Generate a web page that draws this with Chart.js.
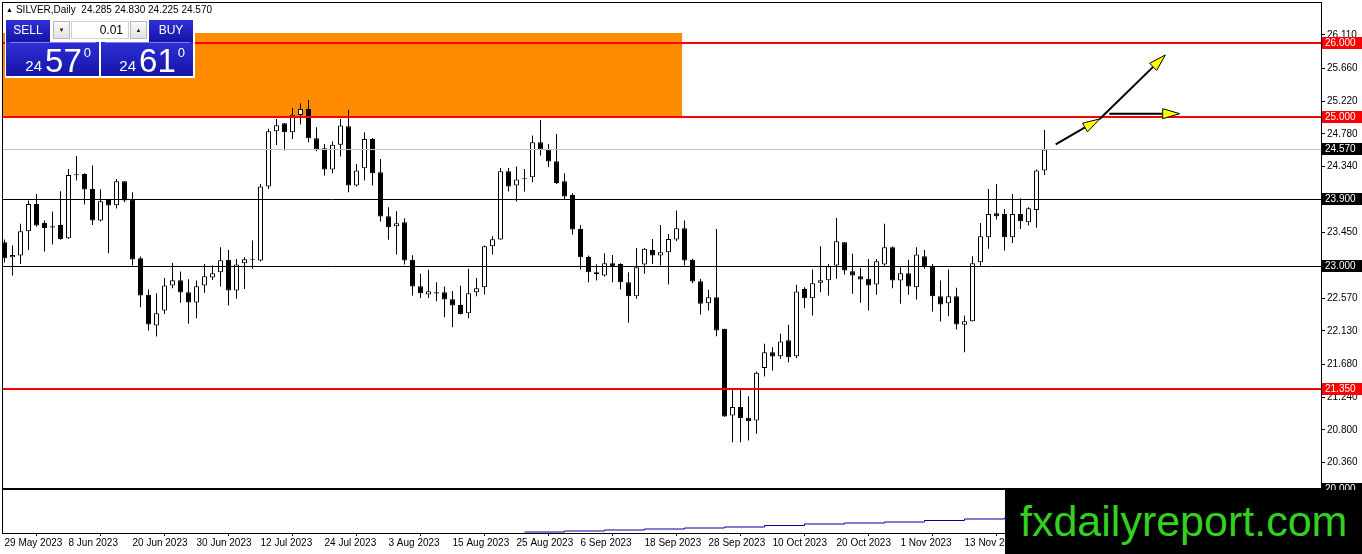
<!DOCTYPE html>
<html>
<head>
<meta charset="utf-8">
<script src="https://cdn.jsdelivr.net/npm/chart.js@4.4.0/dist/chart.umd.min.js"></script>
<style>
html, body { margin: 0; padding: 0; background: #fff; }
#wrap { position: relative; width: 1362px; height: 554px; overflow: hidden; }
#grafico { position: absolute; left: 0; top: 0; }
.titulo { position: absolute; left: 6px; top: 4px; font: 10px "Liberation Sans", Arial, sans-serif; color: #000; white-space: nowrap; }
.titulo .tri { font-size: 7px; vertical-align: 1px; margin-right: 3px; }
#painel { position: absolute; left: 5px; top: 19px; width: 190px; height: 59px; background: #fff; }
.azul { position: absolute; background: linear-gradient(#2f2fd6, #1414a8); color: #fff; font: 12px "Liberation Sans", Arial, sans-serif; text-align: center; }
.btn { top: 1px; width: 44px; height: 22px; line-height: 21px; }
.spin { position: absolute; top: 2px; width: 17px; height: 18px; background: linear-gradient(#fafafa, #e2e2e2); border: 1px solid #b8b8b8; box-sizing: border-box; font: 6px Arial, sans-serif; color: #222; text-align: center; line-height: 16px; }
.lote { position: absolute; top: 2px; left: 66px; width: 58px; height: 18px; background: #fff; border: 1px solid #d0d0d0; box-sizing: border-box; font: 12px "Liberation Sans", Arial, sans-serif; color: #000; text-align: right; padding-right: 5px; line-height: 16px; }
.preco { top: 23px; height: 34px; display: flex; align-items: flex-end; justify-content: flex-end; padding-right: 8px; box-sizing: border-box; }
.preco .pq { font-size: 15px; line-height: 15px; margin-bottom: 3px; margin-right: 3px; }
.preco .pg { font-size: 33px; line-height: 30px; }
.preco .ps { font-size: 13px; line-height: 13px; align-self: flex-start; margin-top: 4px; margin-left: 2px; }
.preco .sep { position: absolute; top: 0; left: 4px; right: 3px; height: 1px; background: #8080e6; }
#marca { position: absolute; left: 1005px; top: 490px; width: 357px; height: 64px; background: #000; color: #33d11f; font: 43px "Liberation Sans", Arial, sans-serif; line-height: 62px; text-indent: 15px; white-space: nowrap; }
</style>
</head>
<body>
<div id="wrap">
  <canvas id="grafico" width="1362" height="554"></canvas>
  <div class="titulo"><span class="tri">&#9650;</span>SILVER,Daily&nbsp; 24.285 24.830 24.225 24.570</div>
  <div id="painel">
    <div class="azul btn" style="left:1px">SELL</div>
    <div class="spin" style="left:48px">&#9660;</div>
    <div class="lote">0.01</div>
    <div class="spin" style="left:125px">&#9650;</div>
    <div class="azul btn" style="left:144px">BUY</div>
    <div class="azul preco" style="left:1px;width:93px"><div class="sep"></div><span class="pq">24</span><span class="pg">57</span><span class="ps">0</span></div>
    <div class="azul preco" style="left:96px;width:92px"><div class="sep"></div><span class="pq">24</span><span class="pg">61</span><span class="ps">0</span></div>
  </div>
  <div id="marca">fxdailyreport.com</div>
</div>
<script>
const ctx = document.getElementById('grafico').getContext('2d');

// Candles (SILVER diario, 29 May 2023 -> 27 Nov 2023) ------------------------
const abertura = [23.322,23.121,23.143,23.470,23.837,23.582,23.537,23.555,23.376,24.231,
  24.240,24.039,23.613,23.891,23.819,24.142,23.900,23.107,22.615,22.203,
  22.404,22.740,22.812,22.651,22.512,22.740,22.848,22.919,23.085,22.673,
  23.040,23.085,23.076,24.070,24.814,24.921,24.800,25.033,25.114,24.720,
  24.585,24.299,24.634,24.881,24.084,24.316,24.711,24.263,23.672,23.537,
  23.591,23.085,22.731,22.619,22.650,22.651,22.557,22.480,22.368,22.651,
  22.718,23.269,23.358,24.276,24.084,24.180,24.196,24.666,24.567,24.411,
  24.142,23.958,23.501,23.125,22.919,22.874,23.040,23.031,22.785,22.597,
  23.022,23.219,23.143,23.188,23.358,23.510,23.085,22.798,22.503,22.583,
  22.158,20.994,21.106,20.962,20.926,21.630,21.844,21.791,22.006,21.791,
  22.695,22.570,22.776,22.812,23.009,23.322,22.933,22.866,22.830,22.754,
  23.022,23.255,22.807,22.906,22.718,23.134,23.000,22.597,22.503,22.597,
  22.212,22.261,23.054,23.389,23.712,23.703,23.389,23.703,23.591,23.755,24.285]
const maxima = [23.360,23.278,23.569,23.882,23.972,23.613,23.734,24.007,24.308,24.482,
  24.249,24.352,24.034,23.895,24.173,24.145,23.994,23.130,22.686,22.637,
  22.843,23.045,22.928,22.825,22.807,23.031,23.013,23.255,23.219,23.098,
  23.121,23.345,24.106,24.849,24.979,24.925,25.127,25.190,25.235,24.867,
  24.643,24.675,24.979,25.100,24.375,24.800,24.724,24.442,23.793,23.739,
  23.645,23.148,22.897,22.951,22.785,22.727,22.668,22.736,22.964,22.843,
  23.278,23.403,24.321,24.321,24.339,24.308,24.755,24.966,24.643,24.778,
  24.249,23.981,23.555,23.143,23.027,23.175,23.152,23.040,22.919,23.246,
  23.246,23.367,23.555,23.434,23.748,23.613,23.100,22.830,22.682,23.501,
  22.160,21.352,21.352,21.253,21.585,21.956,21.912,22.091,22.212,22.749,
  22.718,22.955,23.269,23.031,23.649,23.325,23.166,22.977,23.098,23.098,
  23.569,23.264,22.986,23.085,23.255,23.219,23.031,22.807,22.955,22.709,
  22.337,23.134,23.582,24.039,24.106,23.770,23.972,23.913,23.793,24.300,24.830]
const minima = [23.050,22.874,23.031,23.219,23.533,23.197,23.291,23.354,23.370,24.151,
  23.828,23.555,23.600,23.175,23.775,23.860,23.009,22.449,22.136,22.055,
  22.359,22.704,22.507,22.225,22.301,22.642,22.816,22.727,22.471,22.561,
  22.695,22.964,23.063,24.039,24.630,24.554,24.711,24.903,24.666,24.545,
  24.218,24.249,24.473,23.994,24.070,24.151,24.084,23.600,23.354,23.157,
  23.022,22.606,22.574,22.574,22.530,22.315,22.180,22.350,22.301,22.597,
  22.619,23.157,23.355,24.003,23.869,24.003,24.128,24.487,24.330,24.106,
  23.904,23.425,22.955,22.785,22.807,22.861,22.785,22.686,22.239,22.561,
  22.897,23.031,23.009,22.754,23.336,23.009,22.770,22.350,22.404,22.059,
  20.975,20.635,20.635,20.658,20.747,21.518,21.598,21.755,21.710,21.764,
  22.436,22.337,22.651,22.606,22.830,22.888,22.628,22.507,22.404,22.615,
  23.000,22.704,22.494,22.615,22.552,22.964,22.391,22.256,22.328,22.149,
  21.844,22.255,23.000,23.233,23.627,23.210,23.313,23.501,23.546,23.518,24.225]
const fechamento = [23.107,23.152,23.470,23.837,23.546,23.515,23.519,23.367,24.227,24.222,
  24.030,23.613,23.873,23.815,24.142,23.882,23.089,22.606,22.216,22.368,
  22.740,22.812,22.646,22.512,22.731,22.866,22.906,23.080,22.673,23.022,
  23.094,23.090,24.070,24.814,24.894,24.800,25.037,25.114,24.720,24.567,
  24.299,24.634,24.890,24.084,24.285,24.711,24.249,23.667,23.524,23.578,
  23.076,22.727,22.637,22.664,22.633,22.552,22.471,22.359,22.637,22.704,
  23.269,23.363,24.276,24.070,24.164,24.170,24.666,24.567,24.406,24.119,
  23.936,23.492,23.121,22.919,22.892,23.040,23.000,22.785,22.597,22.986,
  23.233,23.143,23.188,23.367,23.510,23.076,22.794,22.494,22.583,22.136,
  20.980,21.106,20.958,20.917,21.567,21.844,21.786,21.988,21.777,22.660,
  22.570,22.771,22.812,23.000,23.336,22.942,22.874,22.821,22.740,23.067,
  23.255,22.807,22.906,22.727,23.157,23.000,22.597,22.485,22.597,22.216,
  22.261,23.040,23.403,23.703,23.672,23.389,23.703,23.604,23.779,24.285,24.570]

// Eixo X: rotulos de data (indice da vela)
const dataIdx = [0, 8, 16, 24, 32, 40, 48, 56, 64, 72, 80, 88, 96, 104, 112, 120]
const dataTxt = ['29 May 2023','8 Jun 2023','20 Jun 2023','30 Jun 2023','12 Jul 2023','24 Jul 2023',
  '3 Aug 2023','15 Aug 2023','25 Aug 2023','6 Sep 2023','18 Sep 2023','28 Sep 2023',
  '10 Oct 2023','20 Oct 2023','1 Nov 2023','13 Nov 2023']

// Eixo Y: rotulos de preco
const precoTicks = [26.110, 25.660, 25.220, 24.780, 24.340, 23.450, 22.570, 22.130, 21.680, 21.240, 20.800, 20.360]

// Niveis horizontais
const niveisVermelhos = [26.000, 25.000, 21.350]
const niveisPretos = [23.900, 23.000, 20.000]
const precoAtual = 24.570

// Retangulo laranja: [indice inicial, indice final], [preco topo, preco base]
const caixaIdx = [-1, 84.7]
const caixaPreco = [26.134, 25.000]

// Setas: [indice inicio, preco inicio, indice fim, preco fim]
const setas = [
  [131.4, 24.636, 136.9, 24.979],
  [136.9, 24.979, 145.1, 25.839],
  [138.1, 25.050, 146.9, 25.050]
]

// Janela inferior (indicador) - linha azul
const indIdx = [65, 70, 75, 80, 85, 90, 95, 100, 105, 110, 115, 120, 125, 130]
const indVal = [1, 2, 3, 4, 5, 6, 7.5, 9, 10, 11, 12.5, 14, 15, 16]

// --------------------------------------------------------------------------

const fonte = '"Liberation Sans", Arial, sans-serif'
const xMin = -0.1875, xMax = 164.5625
const yMax = 26.5376, yMin = 19.4139

const corpos = abertura.map((o, i) => ({ x: i, y: [Math.min(o, fechamento[i]), Math.max(o, fechamento[i])] }))
const pavios = maxima.map((h, i) => ({ x: i, y: [minima[i], h] }))

function semPadding(s) {
  s.paddingTop = 0
  s.paddingBottom = 0
  s.paddingLeft = 0
  s.paddingRight = 0
}

function linhaH(c, a, py, cor, larg) {
  c.save()
  c.strokeStyle = cor
  c.lineWidth = larg
  const yy = larg % 2 ? Math.round(py) + 0.5 : Math.round(py)
  c.beginPath()
  c.moveTo(a.left, yy)
  c.lineTo(a.right, yy)
  c.stroke()
  c.restore()
}

function seta(c, x0, y0, x1, y1) {
  const ang = Math.atan2(y1 - y0, x1 - x0)
  const comp = 17, meia = 5
  const bx = x1 - Math.cos(ang) * comp, by = y1 - Math.sin(ang) * comp
  c.save()
  c.strokeStyle = '#000'
  c.lineWidth = 2
  c.beginPath()
  c.moveTo(x0, y0)
  c.lineTo(bx, by)
  c.stroke()
  c.beginPath()
  c.moveTo(x1, y1)
  c.lineTo(bx + Math.sin(ang) * meia, by - Math.cos(ang) * meia)
  c.lineTo(bx - Math.sin(ang) * meia, by + Math.cos(ang) * meia)
  c.closePath()
  c.fillStyle = '#ffff00'
  c.fill()
  c.lineWidth = 1
  c.stroke()
  c.restore()
}

function caixaRotulo(c, py, preco, cor) {
  c.save()
  c.fillStyle = cor
  c.fillRect(1322, Math.round(py) - 6, 40, 12)
  c.fillStyle = '#fff'
  c.font = '10px ' + fonte
  c.textBaseline = 'middle'
  c.textAlign = 'left'
  c.fillText(preco.toFixed(3), 1325, Math.round(py) + 0.5)
  c.restore()
}

const desenhos = {
  id: 'desenhos',
  beforeDatasetsDraw(chart) {
    const { ctx: c, chartArea: a, scales: { x, y } } = chart
    c.save()
    c.fillStyle = '#ff8c00'
    const x1 = Math.max(x.getPixelForValue(caixaIdx[0]), a.left)
    const x2 = x.getPixelForValue(caixaIdx[1])
    const y1 = y.getPixelForValue(caixaPreco[0]), y2 = y.getPixelForValue(caixaPreco[1])
    c.fillRect(x1, y1, x2 - x1, y2 - y1)
    c.restore()
  },
  afterDatasetsDraw(chart) {
    const { ctx: c, chartArea: a, scales: { x, y } } = chart
    linhaH(c, a, y.getPixelForValue(precoAtual), '#c0c0c0', 1)
    niveisPretos.forEach(p => linhaH(c, a, y.getPixelForValue(p), '#000', p === 20 ? 2 : 1))
    niveisVermelhos.forEach(p => linhaH(c, a, y.getPixelForValue(p), '#ff0000', 2))
    setas.forEach(s => seta(c, x.getPixelForValue(s[0]), y.getPixelForValue(s[1]), x.getPixelForValue(s[2]), y.getPixelForValue(s[3])))
    // moldura
    c.save()
    c.strokeStyle = '#000'
    c.lineWidth = 1
    c.strokeRect(a.left - 0.5, a.top - 0.5, a.right - a.left + 1, a.bottom - a.top + 1)
    c.restore()
  },
  afterDraw(chart) {
    const { ctx: c, scales: { y } } = chart
    caixaRotulo(c, y.getPixelForValue(precoAtual), precoAtual, '#000')
    niveisPretos.forEach(p => caixaRotulo(c, y.getPixelForValue(p), p, '#000'))
    niveisVermelhos.forEach(p => caixaRotulo(c, y.getPixelForValue(p), p, '#ff0000'))
  }
}

const grafico = new Chart(ctx, {
  data: {
    datasets: [
      {
        type: 'bar',
        data: corpos,
        order: 0,
        grouped: false,
        barThickness: 5,
        minBarLength: 1,
        inflateAmount: 0,
        borderWidth: 1,
        borderSkipped: false,
        borderColor: '#000',
        backgroundColor: c => fechamento[c.dataIndex] >= abertura[c.dataIndex] ? '#fff' : '#000'
      },
      {
        type: 'bar',
        data: pavios,
        order: 1,
        grouped: false,
        barThickness: 1,
        inflateAmount: 0,
        borderWidth: 0,
        backgroundColor: '#000'
      },
      {
        type: 'line',
        yAxisID: 'y2',
        data: indIdx.map((v, i) => ({ x: v, y: indVal[i] })),
        order: 2,
        stepped: true,
        borderColor: '#0000a0',
        borderWidth: 1,
        pointRadius: 0
      }
    ]
  },
  options: {
    responsive: false,
    animation: false,
    events: [],
    layout: { padding: { left: 3, top: 3, right: 0, bottom: 0 } },
    plugins: { legend: false, tooltip: false },
    scales: {
      x: {
        type: 'linear',
        min: xMin,
        max: xMax,
        offset: false,
        afterBuildTicks: s => { s.ticks = dataIdx.map(v => ({ value: v })) },
        afterFit: s => { s.height = 21; semPadding(s) },
        grid: { drawOnChartArea: false, tickLength: 3, color: '#000' },
        border: { display: false },
        ticks: {
          autoSkip: false, maxRotation: 0, align: 'start', padding: 1, color: '#000',
          font: { family: fonte, size: 10 },
          callback: (v, i) => dataTxt[i]
        }
      },
      y: {
        position: 'right',
        min: yMin,
        max: yMax,
        afterBuildTicks: s => { s.ticks = precoTicks.map(v => ({ value: v })) },
        afterFit: s => { s.width = 41; semPadding(s) },
        grid: { drawOnChartArea: false, tickLength: 4, color: '#000' },
        border: { display: true, color: '#000', width: 1 },
        ticks: {
          padding: 2, color: '#000',
          font: { family: fonte, size: 10 },
          callback: v => v.toFixed(3)
        }
      },
      y2: { display: false, min: 0, max: 530 }
    }
  },
  plugins: [desenhos]
})
</script>
</body>
</html>
